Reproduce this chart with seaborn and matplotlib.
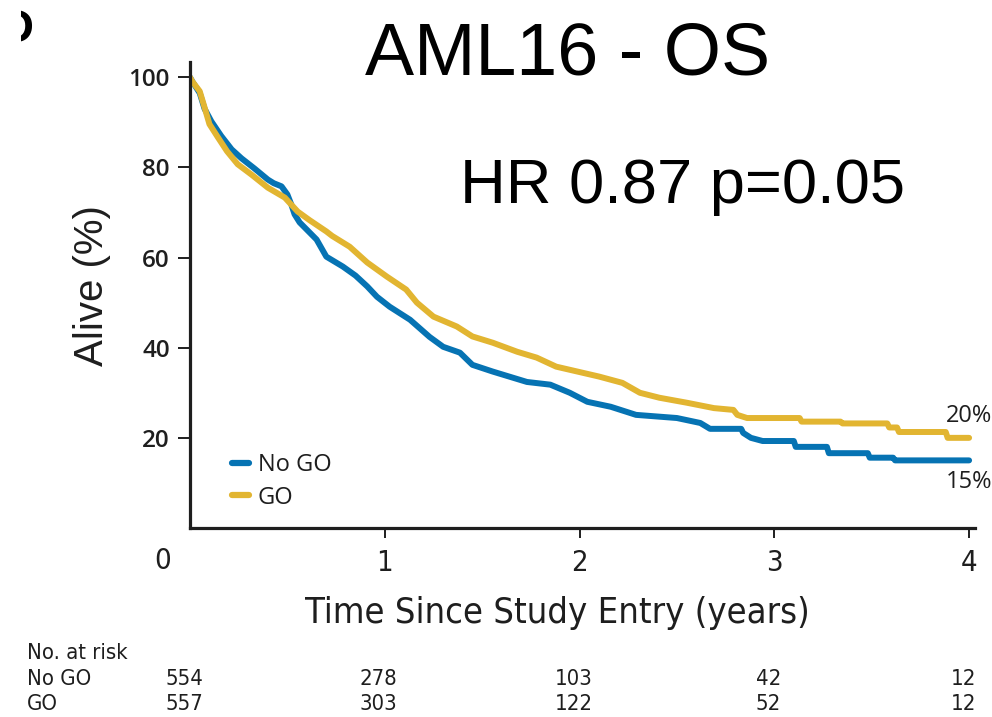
import matplotlib
matplotlib.use("Agg")
import matplotlib.pyplot as plt
from matplotlib.transforms import Bbox, TransformedBbox, ScaledTranslation, blended_transform_factory
import seaborn as sns
import pandas as pd

# Kaplan-Meier overall survival curves, listed as path vertices (years, % alive)
no_go_time = [0, 0.013, 0.05, 0.075, 0.11, 0.16, 0.214, 0.265, 0.33, 0.40, 0.43,
              0.47, 0.50, 0.52, 0.537, 0.563, 0.65, 0.70, 0.785, 0.85, 0.91, 0.96,
              1.025, 1.13, 1.23, 1.30, 1.386, 1.45, 1.555, 1.73, 1.85, 1.95, 2.04,
              2.16, 2.29, 2.50, 2.62, 2.67, 2.83, 2.84, 2.88, 2.94, 3.10, 3.11,
              3.27, 3.28, 3.48, 3.49, 3.61, 3.62, 4.0]
no_go_alive = [100, 99, 96.5, 93, 90.2, 87, 84, 82, 79.8, 77.3, 76.5,
               75.8, 74, 71.8, 69.6, 67.8, 64, 60.2, 58, 56, 53.6, 51.3,
               49.1, 46.2, 42.4, 40.2, 38.9, 36.2, 34.7, 32.4, 31.8, 30, 28,
               26.9, 25.1, 24.4, 23.3, 22.0, 22.0, 21.1, 20.0, 19.3, 19.3, 18.0,
               18.0, 16.6, 16.6, 15.6, 15.6, 15, 15]

go_time = [0, 0.013, 0.05, 0.075, 0.10, 0.143, 0.19, 0.245, 0.316, 0.40, 0.487,
           0.553, 0.614, 0.70, 0.73, 0.82, 0.91, 1.01, 1.11, 1.165, 1.25, 1.37,
           1.45, 1.555, 1.68, 1.78, 1.88, 2.02, 2.10, 2.22, 2.31, 2.41, 2.55,
           2.69, 2.79, 2.81, 2.86, 3.13, 3.14, 3.34, 3.35, 3.58, 3.59, 3.63,
           3.64, 3.88, 3.89, 4.0]
go_alive = [100, 99, 96.9, 93.3, 89.6, 86.7, 83.6, 80.7, 78.4, 75.5, 73.3,
            70.2, 68.3, 65.8, 64.8, 62.4, 58.9, 55.8, 52.9, 50, 46.9, 44.7,
            42.5, 41.1, 39.1, 37.8, 35.8, 34.4, 33.6, 32.2, 30, 28.9, 27.8,
            26.6, 26.2, 25.1, 24.4, 24.4, 23.6, 23.6, 23.2, 23.2, 22.3, 22.3,
            21.3, 21.3, 20, 20]

groups = ["No GO", "GO"]
colors = {"No GO": "#0673B3", "GO": "#E2B531"}
end_labels = {"No GO": "15%", "GO": "20%"}

risk_times = [0, 1, 2, 3, 4]
risk_no_go = [554, 278, 103, 42, 12]
risk_go = [557, 303, 122, 52, 12]

x_ticks = [1, 2, 3, 4]
y_ticks = [20, 40, 60, 80, 100]

df = pd.concat([
    pd.DataFrame({"time": no_go_time, "alive": no_go_alive, "group": "No GO"}),
    pd.DataFrame({"time": go_time, "alive": go_alive, "group": "GO"}),
], ignore_index=True)

sns.set_theme(style="ticks")
plt.rcParams["font.family"] = ["Open Sans", "DejaVu Sans"]
narrow = dict(family="DejaVu Sans", fontstretch="condensed")
helv = ["Liberation Sans", "DejaVu Sans"]
ink = "#1e1e1e"

fig = plt.figure(figsize=(9.92, 7.17), dpi=100)
ax = fig.add_axes([0.1915, 0.2636, 0.7913, 0.650])

sns.lineplot(data=df, x="time", y="alive", hue="group", hue_order=groups,
             palette=colors, estimator=None, sort=False,
             linewidth=4.3, ax=ax, legend=False)

ax.set_xlim(0, 4.03)
ax.set_ylim(0, 103.4)
sns.despine(ax=ax)
for side in ("left", "bottom"):
    ax.spines[side].set_linewidth(2.3)
    ax.spines[side].set_color(ink)

ax.set_xticks(x_ticks)
ax.set_xticklabels([str(v) for v in x_ticks], fontsize=21, color=ink, **narrow)
ax.set_yticks(y_ticks)
ax.set_yticklabels([str(v) for v in y_ticks], fontsize=17.5, color=ink,
                   fontweight="semibold")
ax.tick_params(axis="x", length=7, width=1.4, pad=8, colors=ink)
ax.tick_params(axis="y", length=8.5, width=1.4, pad=6, colors=ink)

# shared origin label
ax.text(0, 0, "0", fontsize=21, color=ink, ha="center", va="top",
        transform=ax.transData + ScaledTranslation(-27 / 100, -19 / 100, fig.dpi_scale_trans),
        **narrow)

ax.set_xlabel("Time Since Study Entry (years)", fontsize=26, color=ink, **narrow)
ax.xaxis.set_label_coords(0.4675, -0.146)
ax.set_ylabel("Alive (%)", fontsize=29, family=helv, color=ink)
ax.yaxis.set_label_coords(-0.100, 0.521)
ax.grid(False)

# end-of-curve percentages
ax.text(4.0, no_go_alive[-1], end_labels["No GO"], fontsize=17, color=ink,
        ha="center", va="top",
        transform=ax.transData + ScaledTranslation(0, -10 / 100, fig.dpi_scale_trans))
ax.text(4.0, go_alive[-1], end_labels["GO"], fontsize=17, color=ink,
        ha="center", va="bottom",
        transform=ax.transData + ScaledTranslation(0, 10 / 100, fig.dpi_scale_trans))

# legend
handles = [plt.Line2D([], [], color=colors[g], linewidth=4.5) for g in groups]
leg = ax.legend(handles, groups, loc="lower left", bbox_to_anchor=(0.026, -0.006),
                frameon=False, fontsize=17, handlelength=0.75, handletextpad=0.35,
                labelspacing=0.35)
for t in leg.get_texts():
    t.set_color(ink)

# titles
fig.text(568 / 992, 1 - 55 / 717, "AML16 - OS", fontsize=53, ha="center",
         va="center", family=helv, color="black")
fig.text(460 / 992, 1 - 187 / 717, "HR 0.87 p=0.05", fontsize=45.5, ha="left",
         va="center", family=helv, color="black")

# partially visible panel letter
pl = fig.text(0 / 992, 1 - 30 / 717, "D", fontsize=34, fontweight="bold",
              ha="left", va="center", color="black", family=helv)
pl.set_clip_box(TransformedBbox(Bbox([[21 / 992, 0.8], [60 / 992, 1.0]]),
                                fig.transFigure))
pl.set_clip_on(True)

# number-at-risk table
risk_fs = 15.8
fig.text(27 / 992, 1 - 653 / 717, "No. at risk", fontsize=risk_fs, ha="left",
         va="center", color=ink, **narrow)
row_tf = blended_transform_factory(ax.transData, fig.transFigure) + \
    ScaledTranslation(-6 / 100, 0, fig.dpi_scale_trans)
for row_name, counts, ypix in (("No GO", risk_no_go, 679), ("GO", risk_go, 704)):
    fig.text(27 / 992, 1 - ypix / 717, row_name, fontsize=risk_fs, ha="left",
             va="center", color=ink, **narrow)
    for t, n in zip(risk_times, counts):
        ax.text(t, 1 - ypix / 717, str(n), fontsize=risk_fs, ha="center", va="center",
                color=ink, clip_on=False, transform=row_tf, **narrow)

fig.savefig("out.png", dpi=100)
